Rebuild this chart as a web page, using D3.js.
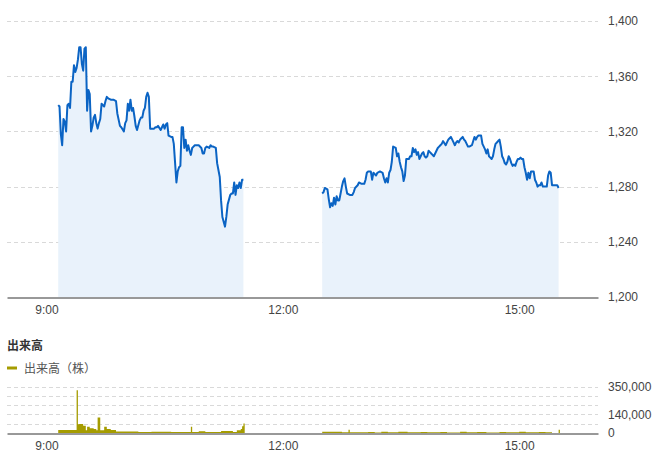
<!DOCTYPE html>
<html><head><meta charset="utf-8">
<script src="https://cdn.jsdelivr.net/npm/d3@7"></script>
<style>
html,body{margin:0;padding:0;background:#fff;}
svg{display:block;font-family:"Liberation Sans",Arial,"Noto Sans CJK JP",sans-serif;}
</style></head>
<body><svg id="c" width="660" height="464"></svg>
<script>
// ---- data ----
const amTimes = ["9:09","9:10","9:11","9:12","9:13","9:14","9:15","9:16","9:17","9:18","9:19","9:20","9:21","9:22","9:23","9:24","9:25","9:26","9:27","9:28","9:29","9:30","9:31","9:32","9:33","9:34","9:35","9:36","9:37","9:38","9:39","9:40","9:41","9:42","9:44","9:45","9:46","9:47","9:49","9:51","9:53","9:54","9:56","9:57","9:59","10:00","10:01","10:02","10:03","10:04","10:05","10:06","10:07","10:08","10:09","10:11","10:12","10:13","10:14","10:15","10:16","10:17","10:18","10:19","10:20","10:22","10:23","10:24","10:25","10:27","10:28","10:29","10:30","10:31","10:32","10:33","10:35","10:36","10:37","10:38","10:39","10:40","10:41","10:42","10:43","10:44","10:45","10:46","10:47","10:48","10:49","10:50","10:51","10:52","10:53","10:55","10:56","10:58","10:59","11:00","11:01","11:02","11:04","11:05","11:06","11:07","11:09","11:10","11:12","11:13","11:14","11:16","11:17","11:18","11:20","11:21","11:22","11:23","11:24","11:25","11:26","11:27","11:28","11:29","11:30"];
const amPrices = [1339,1338,1318,1310,1329,1327,1320,1339,1340,1337,1356,1356,1368,1363,1366,1372,1381,1381,1369,1364,1380,1381,1335,1350,1347,1320,1324,1330,1332,1326,1322,1326,1329,1340,1338,1342,1345,1344,1343,1343,1342,1333,1324,1323,1320,1326,1328,1340,1335,1343,1335,1337,1331,1324,1321,1328,1330,1330,1335,1337,1345,1348,1345,1322,1322,1322,1323,1323,1324,1321,1323,1325,1322,1325,1326,1317,1316,1316,1311,1297,1283,1291,1294,1295,1323,1323,1308,1314,1306,1310,1306,1303,1308,1309,1310,1310,1310,1308,1304,1304,1308,1309,1308,1310,1309,1309,1308,1297,1287,1270,1258,1251,1258,1267,1274,1275,1275,1283,1274,1281,1279,1283,1279,1285,1285];

const pmTimes = ["12:30","12:31","12:32","12:34","12:35","12:36","12:37","12:38","12:39","12:40","12:41","12:42","12:43","12:44","12:45","12:46","12:47","12:48","12:49","12:51","12:53","12:54","12:55","12:57","12:58","13:00","13:02","13:03","13:04","13:05","13:07","13:08","13:09","13:11","13:12","13:14","13:16","13:17","13:18","13:19","13:20","13:21","13:22","13:23","13:24","13:26","13:27","13:28","13:29","13:30","13:31","13:32","13:33","13:34","13:35","13:36","13:37","13:38","13:39","13:40","13:41","13:42","13:43","13:44","13:45","13:46","13:47","13:48","13:49","13:50","13:51","13:52","13:53","13:54","13:55","13:56","13:57","13:58","13:59","14:00","14:01","14:02","14:04","14:05","14:06","14:07","14:08","14:09","14:10","14:11","14:12","14:13","14:14","14:15","14:16","14:17","14:18","14:19","14:20","14:21","14:22","14:24","14:25","14:26","14:27","14:28","14:29","14:30","14:31","14:32","14:33","14:34","14:35","14:36","14:37","14:38","14:39","14:40","14:41","14:42","14:43","14:44","14:45","14:46","14:47","14:48","14:49","14:50","14:51","14:52","14:53","14:54","14:55","14:56","14:57","14:58","14:59","15:00","15:01","15:02","15:03","15:04","15:05","15:06","15:07","15:08","15:09","15:11","15:12","15:13","15:14","15:15","15:16","15:17","15:18","15:19","15:20","15:21","15:22","15:23","15:24","15:25","15:26","15:27","15:29","15:30"];
const pmPrices = [1275,1276,1279,1278,1271,1265,1268,1266,1272,1267,1273,1270,1270,1275,1280,1284,1286,1280,1275,1274,1274,1276,1279,1281,1283,1282,1282,1285,1290,1291,1291,1285,1290,1288,1290,1291,1290,1286,1283,1286,1283,1290,1292,1298,1309,1308,1302,1304,1298,1294,1291,1284,1288,1300,1300,1300,1302,1302,1308,1305,1307,1303,1305,1300,1302,1304,1305,1302,1301,1302,1306,1305,1304,1303,1302,1304,1306,1308,1309,1310,1311,1313,1310,1312,1314,1315,1316,1314,1312,1310,1312,1313,1312,1314,1315,1316,1314,1313,1311,1309,1309,1310,1313,1316,1314,1316,1317,1317,1317,1311,1309,1307,1304,1307,1302,1301,1300,1302,1307,1311,1312,1313,1314,1309,1302,1300,1297,1296,1298,1302,1300,1297,1295,1296,1295,1298,1300,1300,1301,1300,1300,1294,1290,1285,1290,1286,1291,1291,1285,1283,1280,1281,1281,1283,1280,1280,1280,1280,1288,1291,1290,1281,1281,1281,1281,1279];

const volAmTimes = ["9:09","9:23","9:24","9:25","9:28","9:30","9:31","9:33","9:36","9:38","9:39","9:41","9:44","9:46","9:49","9:53","10:10","10:20","10:35","10:50","10:51","10:56","11:01","11:13","11:22","11:25","11:28","11:29","11:30","11:31"];
const volAmValues = [22000,322000,65000,67000,55000,20000,47000,35000,30000,20000,117000,20000,47000,30000,22000,12000,8000,10000,8000,47000,8000,14000,8000,15000,8000,20000,30000,50000,72000,72000];
const volPmTimes = ["12:30","12:45","12:50","12:51","13:05","13:10","13:15","13:20","13:28","13:35","13:45","13:50","14:00","14:05","14:15","14:20","14:28","14:35","14:45","14:50","15:00","15:05","15:15","15:20","15:25","15:30","15:31"];
const volPmValues = [10000,5000,25000,5000,8000,4000,9000,5000,9000,5000,8000,5000,8000,4000,9000,5000,8000,4000,8000,5000,9000,5000,8000,5000,0,25000,25000];

const xTickLabels = ["9:00","12:00","15:00"];
const priceTicks = [1200,1240,1280,1320,1360,1400];
const volGridTicks = [0,70000,140000,210000,280000,350000];
const volLabelTicks = [0,140000,350000];

// ---- helpers ----
const parseT = s => { const [h,m] = s.split(":").map(Number); return new Date(2024,0,1,h,m); };
const zip = (ts, vs) => ts.map((t,i)=>({t:parseT(t), v:vs[i]}));

const svg = d3.select("#c");
const x = d3.scaleTime().domain([parseT("8:30"), parseT("16:00")]).range([7, 598]);
const y = d3.scaleLinear().domain([1200,1400]).range([297,21]);
const yv = d3.scaleLinear().domain([0,350000]).range([433,386.5]);

const gridCol = "#d9d9d9";
const textCol = "#444";

// price grid
svg.append("g").selectAll("line").data(priceTicks.filter(d=>d>1200)).join("line")
  .attr("x1",7).attr("x2",598).attr("y1",d=>Math.round(y(d))+0.5).attr("y2",d=>Math.round(y(d))+0.5)
  .attr("stroke",gridCol).attr("stroke-dasharray","4,3");

// price areas + lines
const area = d3.area().x(d=>x(d.t)).y0(y(1200)).y1(d=>y(d.v));
const line = d3.line().x(d=>x(d.t)).y(d=>y(d.v));
[zip(amTimes,amPrices), zip(pmTimes,pmPrices)].forEach(seg=>{
  svg.append("path").datum(seg).attr("d",area).attr("fill","#e9f2fb");
});
[zip(amTimes,amPrices), zip(pmTimes,pmPrices)].forEach(seg=>{
  svg.append("path").datum(seg).attr("d",line).attr("fill","none")
    .attr("stroke","#0b64c4").attr("stroke-width",2).attr("stroke-linejoin","round");
});

// price x axis
const xAxis = d3.axisBottom(x).tickValues(xTickLabels.map(parseT)).tickFormat(d3.timeFormat("%-H:%M")).tickSize(0).tickPadding(8);
const gx = svg.append("g").attr("transform","translate(0,297.5)").call(xAxis);
gx.select(".domain").attr("stroke","#333");
gx.selectAll("text").attr("fill",textCol).attr("font-size",12);

// price y axis (right)
const yAxis = d3.axisRight(y).tickValues(priceTicks).tickFormat(d3.format(",")).tickSize(0).tickPadding(10);
const gy = svg.append("g").attr("transform","translate(598,0)").call(yAxis);
gy.select(".domain").remove();
gy.selectAll("text").attr("fill",textCol).attr("font-size",12);

// volume title + legend
svg.append("text").attr("x",7).attr("y",350).text("出来高")
  .attr("font-family","'Noto Sans CJK JP',sans-serif").attr("font-weight","bold").attr("font-size",12).attr("fill","#333");
svg.append("line").attr("x1",7).attr("x2",17).attr("y1",368).attr("y2",368)
  .attr("stroke","#a59c00").attr("stroke-width",3);
svg.append("text").attr("x",24).attr("y",372.5).text("出来高（株）")
  .attr("font-family","'Noto Sans CJK JP',sans-serif").attr("font-size",12).attr("fill","#555");

// volume grid
svg.append("g").selectAll("line").data(volGridTicks.filter(d=>d>0)).join("line")
  .attr("x1",7).attr("x2",598).attr("y1",d=>Math.round(yv(d))+0.5).attr("y2",d=>Math.round(yv(d))+0.5)
  .attr("stroke",gridCol).attr("stroke-dasharray","4,3");

// volume areas
const varea = d3.area().curve(d3.curveStepAfter).x(d=>x(d.t)).y0(yv(0)).y1(d=>yv(d.v));
[zip(volAmTimes,volAmValues), zip(volPmTimes,volPmValues)].forEach(seg=>{
  svg.append("path").datum(seg).attr("d",varea).attr("fill","#a59c00");
});

// volume x axis
const gx2 = svg.append("g").attr("transform","translate(0,433.5)").call(xAxis);
gx2.select(".domain").attr("stroke","#333");
gx2.selectAll("text").attr("fill",textCol).attr("font-size",12);

// volume y labels
const yvAxis = d3.axisRight(yv).tickValues(volLabelTicks).tickFormat(d3.format(",")).tickSize(0).tickPadding(10);
const gyv = svg.append("g").attr("transform","translate(598,0)").call(yvAxis);
gyv.select(".domain").remove();
gyv.selectAll("text").attr("fill",textCol).attr("font-size",12);
</script>
</body></html>
